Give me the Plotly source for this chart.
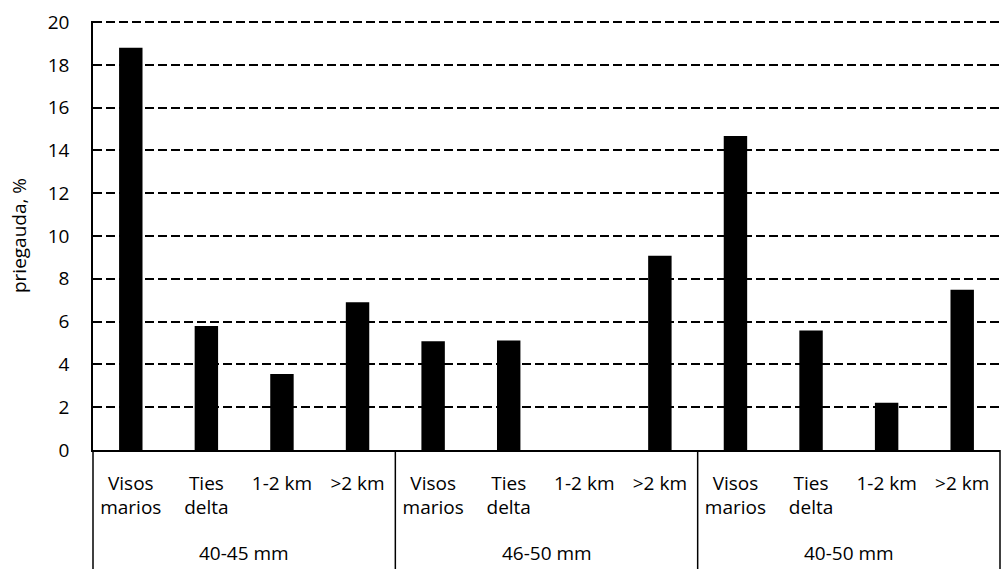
import plotly.graph_objects as go

# ---- data ----
groups = ["40-45 mm", "46-50 mm", "40-50 mm"]
categories = ["Visos<br>marios", "Ties<br>delta", "1-2 km", ">2 km"]
values_40_45 = [18.8, 5.8, 3.55, 6.9]
values_46_50 = [5.08, 5.12, 0.0, 9.08]
values_40_50 = [14.67, 5.59, 2.21, 7.49]
y_ticks = [0, 2, 4, 6, 8, 10, 12, 14, 16, 18, 20]
y_title = "priegauda, %"

series = [values_40_45, values_46_50, values_40_50]
n_cat = len(categories)

x_pos, y_vals, tick_text = [], [], []
for gi, vals in enumerate(series):
    for ci, v in enumerate(vals):
        x_pos.append(gi * n_cat + ci)
        y_vals.append(v)
        tick_text.append(categories[ci])

FONT = "Open Sans"
FS = 19

fig = go.Figure()
fig.add_trace(go.Bar(
    x=x_pos, y=y_vals,
    marker=dict(color="black", line=dict(width=0)),
    showlegend=False,
))

W, H = 1001, 569
ml, mr, mt, mb = 93, 1, 21, 119
plot_h = H - mt - mb

x_min, x_max = -0.5, len(series) * n_cat - 0.5
shapes = []
for gi in range(len(groups) + 1):
    xb = gi * n_cat - 0.5
    xf = (xb - x_min) / (x_max - x_min)
    shapes.append(dict(type="line", xref="x domain", yref="paper",
                       x0=xf, x1=xf, y0=0, y1=-mb / plot_h,
                       line=dict(color="black", width=1.5)))

annotations = []
for gi, g in enumerate(groups):
    xc = gi * n_cat + (n_cat - 1) / 2
    annotations.append(dict(text=g, xref="x", yref="paper", x=xc,
                            y=-103 / plot_h, yanchor="middle", xanchor="center",
                            showarrow=False, font=dict(family=FONT, size=FS, color="black")))

fig.update_layout(
    width=W, height=H,
    margin=dict(l=ml, r=mr, t=mt, b=mb),
    paper_bgcolor="white", plot_bgcolor="white",
    bargap=0.69,
    font=dict(family=FONT, size=FS, color="black"),
    shapes=shapes, annotations=annotations,
    xaxis=dict(
        range=[x_min, x_max], automargin=False,
        tickmode="array", tickvals=x_pos, ticktext=tick_text,
        ticks="", showgrid=False, zeroline=False,
        showline=True, linecolor="black", linewidth=1.5,
        tickfont=dict(family=FONT, size=FS, color="black"),
        ticklabelstandoff=15,
    ),
    yaxis=dict(
        range=[0, 20.05], automargin=False, tickmode="array", tickvals=y_ticks,
        ticks="", showgrid=True, gridcolor="black", gridwidth=1.5,
        griddash="9px,4px", zeroline=False,
        showline=True, linecolor="black", linewidth=1.5,
        tickfont=dict(family=FONT, size=FS, color="black"),
        ticklabelstandoff=18,
        title=dict(text=y_title, font=dict(family=FONT, size=FS, color="black"), standoff=16),
    ),
)

fig.write_html("out.html", config={"displayModeBar": False},
               post_script="document.body.style.margin='0';")
